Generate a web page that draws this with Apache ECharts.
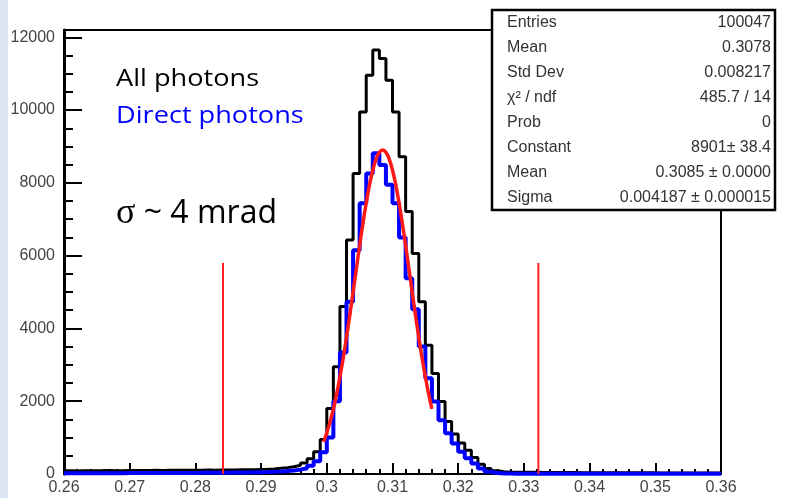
<!DOCTYPE html>
<html>
<head>
<meta charset="utf-8">
<script src="https://cdn.jsdelivr.net/npm/echarts@6/dist/echarts.min.js"></script>
<style>
html,body{margin:0;padding:0;background:#fff;}
#chart{width:788px;height:498px;}
</style>
</head>
<body>
<div id="chart"></div>
<script>
// ---- data ----
var binStart = 0.26;
var binWidth = 0.001;
// All photons (black), 100 bins from 0.26 to 0.36
var allPhotons = [
  90, 85, 90, 88, 92, 90, 95, 92, 90, 95,
  95, 98, 95, 100, 98, 100, 102, 100, 105, 100,
  105, 108, 105, 110, 110, 112, 115, 118, 120, 125,
  130, 140, 155, 175, 200, 240, 300, 420, 610, 950,
  1800, 2950, 4600, 6430, 8260, 9950, 10960, 11650, 11420, 10820,
  9950, 8720, 7210, 6060, 4730, 3540, 2760, 1990, 1440, 1100,
  850, 650, 450, 270, 150, 90, 65, 55, 50, 48,
  45, 45, 42, 42, 40, 40, 38, 38, 36, 36,
  35, 35, 34, 34, 33, 33, 32, 32, 31, 31,
  30, 30, 30, 29, 29, 28, 28, 28, 27, 27
];
// Direct photons (blue)
var directPhotons = [
  20, 20, 22, 20, 22, 22, 24, 22, 24, 25,
  25, 25, 26, 26, 28, 28, 28, 30, 30, 30,
  32, 32, 34, 34, 36, 38, 40, 42, 45, 50,
  55, 62, 70, 80, 95, 120, 160, 230, 350, 600,
  1000, 2000, 3340, 4730, 6150, 7440, 8260, 8810, 8490, 7950,
  7440, 6500, 5380, 4530, 3500, 2630, 1990, 1480, 1120, 840,
  610, 430, 290, 150, 60, 25, 15, 12, 10, 10,
  10, 10, 9, 9, 9, 9, 9, 8, 8, 8,
  8, 8, 8, 8, 8, 8, 8, 8, 8, 8,
  8, 8, 8, 8, 8, 8, 8, 8, 8, 8
];
var fitX = [0.2995,0.3000,0.3005,0.3010,0.3015,0.3020,0.3025,0.3030,0.3035,0.3040,0.3045,0.3050,0.3055,0.3060,0.3065,0.3070,0.3075,0.3080,0.3085,0.3090,0.3095,0.3100,0.3105,0.3110,0.3115,0.3120,0.3125,0.3130,0.3135,0.3140,0.3145,0.3150,0.3155,0.3160];
var fitY = [883,1134,1434,1789,2200,2668,3188,3756,4363,4995,5640,6276,6886,7448,7942,8347,8651,8838,8901,8838,8651,8347,7942,7448,6886,6276,5640,4995,4363,3756,3188,2668,2200,1789];
// red cut lines
var cutPositions = [0.2842, 0.3322];
var cutHeight = 5800;
// axis ticks
var xTickLabels = ['0.26','0.27','0.28','0.29','0.3','0.31','0.32','0.33','0.34','0.35','0.36'];
var yTickLabels = ['0','2000','4000','6000','8000','10000','12000'];
// stats box
var statLabels = ['Entries','Mean','Std Dev','\u03c7\u00b2 / ndf','Prob','Constant','Mean','Sigma'];
var statValues = ['100047','0.3078','0.008217','485.7 / 14','0','8901\u00b1 38.4','0.3085 \u00b1 0.0000','0.004187 \u00b1 0.000015'];

// ---- build ----
function stepData(counts){
  var d = [];
  for (var i = 0; i < counts.length; i++) d.push([binStart + i*binWidth, counts[i]]);
  d.push([binStart + counts.length*binWidth, counts[counts.length-1]]);
  return d;
}
var fitData = fitX.map(function(x,i){return [x, fitY[i]];});

var series = [
  {type:'line', step:'end', data: stepData(allPhotons), showSymbol:false, z:3,
   lineStyle:{color:'#000', width:3}, itemStyle:{color:'#000'}},
  {type:'line', step:'end', data: stepData(directPhotons), showSymbol:false, z:4,
   lineStyle:{color:'#0000ff', width:4}, itemStyle:{color:'#0000ff'}},
  {type:'line', smooth:true, data: fitData, showSymbol:false, z:5,
   lineStyle:{color:'#ff1a1a', width:3.5}, itemStyle:{color:'#ff1a1a'}}
];
cutPositions.forEach(function(c){
  series.push({type:'line', data:[[c,0],[c,cutHeight]], showSymbol:false, z:5,
    lineStyle:{color:'#ff2020', width:2}, itemStyle:{color:'#ff2020'}});
});

var graphics = [
  {type:'rect', left:0, top:0, shape:{width:8, height:498}, style:{fill:'#dbe5f1'}, z:0, silent:true}
];
// stats box
var boxX = 492, boxY = 10, boxW = 283, boxH = 200;
graphics.push({type:'rect', x:boxX, y:boxY, shape:{width:boxW, height:boxH},
  style:{fill:'#fff', stroke:'#000', lineWidth:2.5}, z:100});
statLabels.forEach(function(l, i){
  var y = 23 + i*25;
  graphics.push({type:'text', x:507, y:y, z:101,
    style:{text:l, fill:'#333', font:'16px "Liberation Sans", Arial, sans-serif', textAlign:'left', textVerticalAlign:'middle'}});
  graphics.push({type:'text', x:771, y:y, z:101,
    style:{text:statValues[i], fill:'#333', font:'16px "Liberation Sans", Arial, sans-serif', textAlign:'right', textVerticalAlign:'middle'}});
});
// annotations
graphics.push({type:'text', x:116, y:79, z:101, scaleX:1.18, originX:0,
  style:{text:'All photons', fill:'#000', font:'23px "Open Sans", sans-serif', textAlign:'left', textVerticalAlign:'middle'}});
graphics.push({type:'text', x:116, y:116, z:101, scaleX:1.18, originX:0,
  style:{text:'Direct photons', fill:'#0000ff', font:'23px "Open Sans", sans-serif', textAlign:'left', textVerticalAlign:'middle'}});
graphics.push({type:'text', x:116, y:214, z:101,
  style:{text:'{s|\u03c3} ~ 4 mrad', fill:'#000', font:'32px "Open Sans", sans-serif', textAlign:'left', textVerticalAlign:'middle',
    rich:{s:{font:'36px "Liberation Serif", serif', fill:'#000'}}}});

var chart = echarts.init(document.getElementById('chart'), null, {renderer:'canvas'});
chart.setOption({
  animation:false,
  backgroundColor:'#fff',
  grid:{left:64, right:67, top:30, bottom:24, show:true, borderColor:'#000', borderWidth:2, backgroundColor:'transparent'},
  xAxis:{
    type:'value', min:0.26, max:0.36, interval:0.01,
    axisLine:{show:true, onZero:false, lineStyle:{color:'#000', width:2}},
    axisTick:{show:true, inside:true, length:11, lineStyle:{color:'#000', width:2}},
    minorTick:{show:true, splitNumber:5, length:5, lineStyle:{color:'#000', width:2}},
    splitLine:{show:false},
    axisLabel:{color:'#444', fontSize:16, fontFamily:'"Liberation Sans", Arial, sans-serif', margin:6,
      formatter:function(v){ var i = Math.round((v - 0.26)/0.01); return xTickLabels[i] || ''; }}
  },
  yAxis:[{
    type:'value', position:'left', min:0, max:12200, interval:2000,
    axisLine:{show:true, lineStyle:{color:'#000', width:3}},
    axisTick:{show:true, inside:true, length:18, lineStyle:{color:'#000', width:2},
      customValues:[0,2000,4000,6000,8000,10000,12000]},
    splitLine:{show:false},
    axisLabel:{color:'#444', fontSize:16, fontFamily:'"Liberation Sans", Arial, sans-serif', margin:9,
      customValues:[0,2000,4000,6000,8000,10000,12000],
      formatter:function(v){ var i = Math.round(v/2000); return (Math.abs(v - i*2000) < 1e-6) ? (yTickLabels[i] || '') : ''; }}
  },{
    type:'value', position:'left', offset:0, min:0, max:12200, interval:500,
    axisLine:{show:false},
    axisTick:{show:true, inside:true, length:9, lineStyle:{color:'#000', width:2}},
    axisLabel:{show:false},
    splitLine:{show:false}
  }],
  series: series,
  graphic: graphics
});
</script>
</body>
</html>
